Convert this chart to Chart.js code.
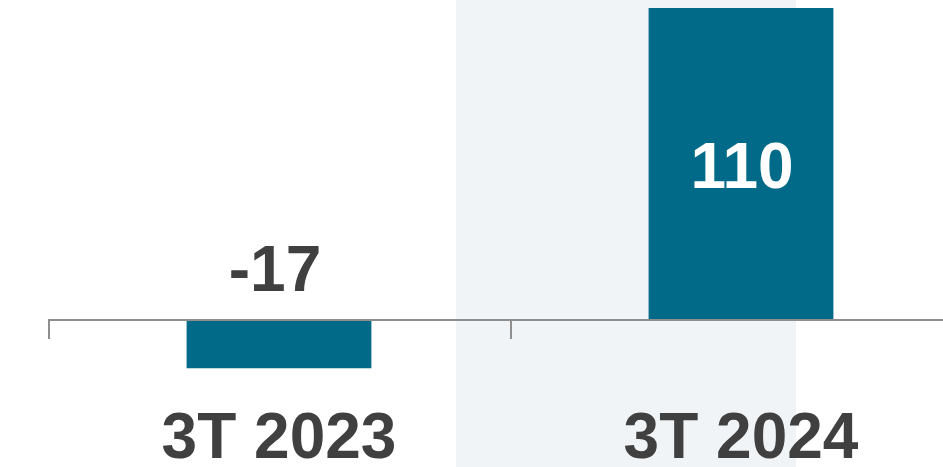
<!DOCTYPE html>
<html>
<head>
<meta charset="utf-8">
<script src="https://cdn.jsdelivr.net/npm/chart.js@4"></script>
<style>
  html, body { margin: 0; padding: 0; background: #fff; overflow: hidden; }
  #wrap { width: 943px; height: 467px; overflow: hidden; }
</style>
</head>
<body>
<div id="wrap"><canvas id="c" width="1000" height="467"></canvas></div>
<script>
// data
var categories = ['3T 2023', '3T 2024'];
var values = [-17, 110];

var barColor = '#006a88';
var textColor = '#404040';
var axisColor = '#8e8e8e';
var fontFamily = "'Liberation Sans', Arial, sans-serif";

// grey band behind the second period, plus white page
var bgPlugin = {
	id: 'bg',
	beforeDraw: function(chart) {
		var ctx = chart.ctx, x = chart.scales.x;
		ctx.save();
		ctx.fillStyle = '#fff';
		ctx.fillRect(0, 0, chart.width, chart.height);
		var x0 = x.getPixelForValue(0.383), x1 = x.getPixelForValue(1.119);
		ctx.fillStyle = '#f1f4f6';
		ctx.fillRect(x0, 0, x1 - x0, chart.height);
		ctx.restore();
	}
};

// small tick marks hanging below the zero line at the category edges
var ticksPlugin = {
	id: 'zeroTicks',
	afterDatasetsDraw: function(chart) {
		var ctx = chart.ctx, x = chart.scales.x, y = chart.scales.y;
		var y0 = y.getPixelForValue(0);
		ctx.save();
		ctx.strokeStyle = axisColor;
		ctx.lineWidth = 2;
		for (var i = 0; i < categories.length; i++) {
			var px = Math.round(x.getPixelForValue(i - 0.5)) + 1;
			ctx.beginPath();
			ctx.moveTo(px, y0 - 1);
			ctx.lineTo(px, y0 + 19);
			ctx.stroke();
		}
		ctx.restore();
	}
};

// value labels: inside the bar when positive, above the axis when negative
var labelPlugin = {
	id: 'valueLabels',
	afterDatasetsDraw: function(chart) {
		var ctx = chart.ctx;
		var meta = chart.getDatasetMeta(0);
		var y0 = chart.scales.y.getPixelForValue(0);
		ctx.save();
		ctx.font = 'bold 64px ' + fontFamily;
		ctx.textAlign = 'center';
		meta.data.forEach(function(bar, i) {
			var v = values[i];
			if (v >= 0) {
				ctx.fillStyle = '#fff';
				ctx.textBaseline = 'middle';
				ctx.fillText(String(v), bar.x + 1, (bar.y + bar.base) / 2 + 7);
			} else {
				ctx.fillStyle = textColor;
				ctx.textBaseline = 'alphabetic';
				ctx.fillText(String(v), bar.x - 4, y0 - 29);
			}
		});
		ctx.restore();
	}
};

new Chart(document.getElementById('c'), {
	type: 'bar',
	data: {
		labels: categories,
		datasets: [{
			data: values,
			backgroundColor: barColor,
			borderWidth: 0,
			categoryPercentage: 1,
			barPercentage: 0.4
		}]
	},
	options: {
		responsive: false,
		animation: false,
		layout: { padding: { left: 48, right: 28, top: 0, bottom: 0 } },
		plugins: { legend: { display: false }, tooltip: { enabled: false } },
		scales: {
			x: {
				grid: { display: false },
				border: { display: false },
				ticks: {
					color: textColor,
					font: { family: fontFamily, size: 64, weight: 'bold' },
					padding: -6,
					maxRotation: 0
				},
				afterFit: function(scale) { scale.height = 67; }
			},
			y: {
				min: -28.2,
				max: 112.82,
				ticks: { display: false, stepSize: 10 },
				border: { display: false },
				grid: {
					drawTicks: false,
					lineWidth: 2,
					color: function(c) { return c.tick && c.tick.value === 0 ? axisColor : 'rgba(0,0,0,0)'; }
				},
				afterFit: function(scale) { scale.width = 0; }
			}
		}
	},
	plugins: [bgPlugin, ticksPlugin, labelPlugin]
});
</script>
</body>
</html>
